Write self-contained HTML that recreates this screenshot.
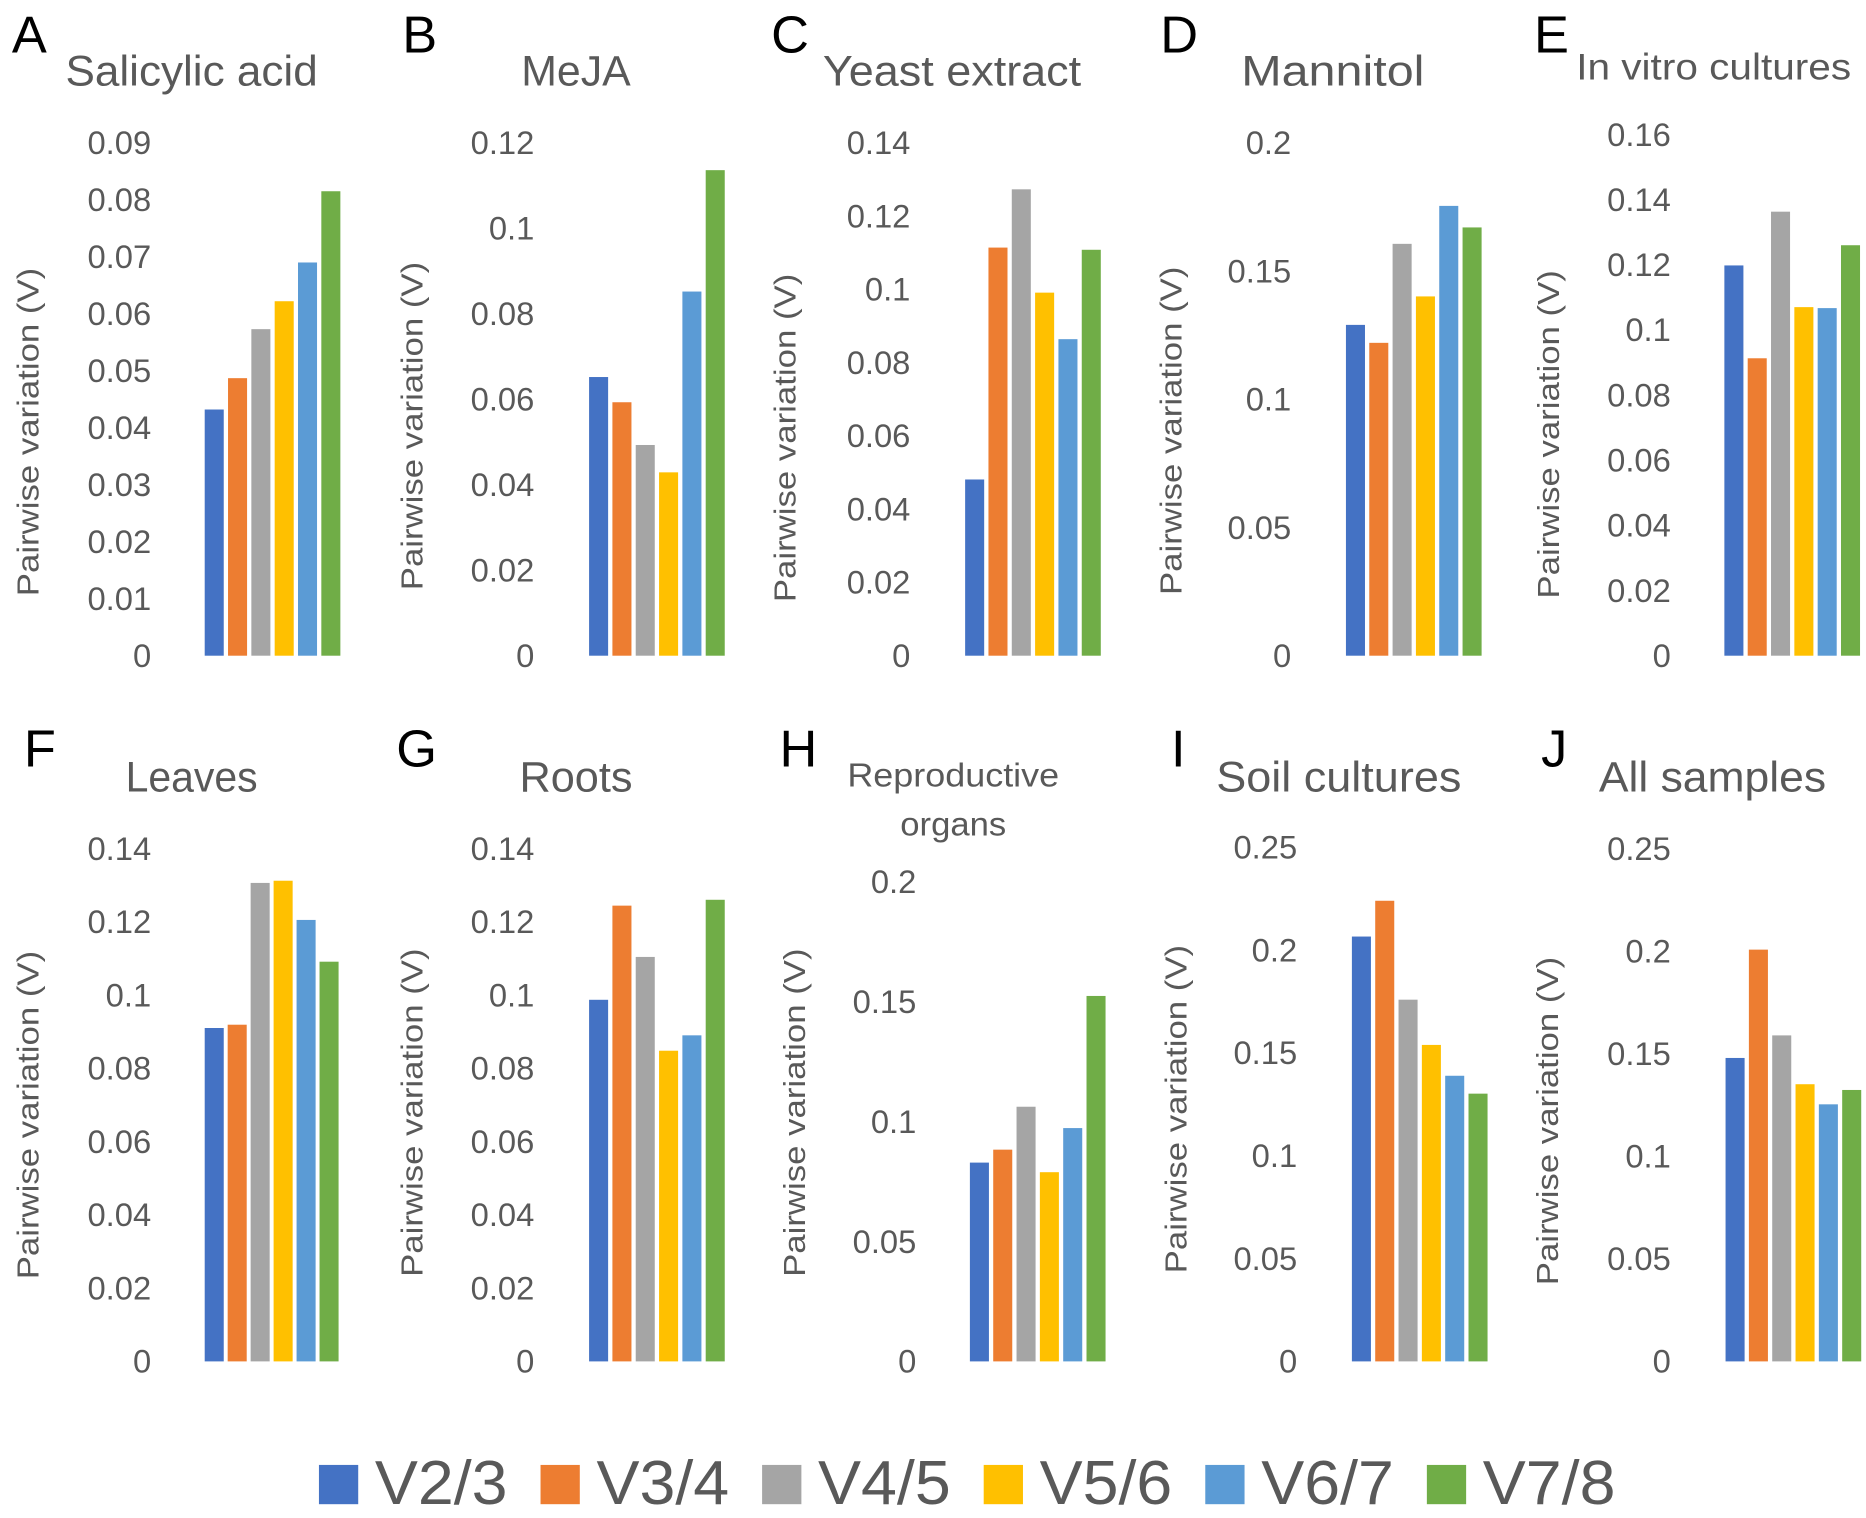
<!DOCTYPE html>
<html lang="en">
<head>
<meta charset="utf-8">
<title>Pairwise variation panels</title>
<style>
html,body{margin:0;padding:0;background:#fff;width:1866px;height:1518px;overflow:hidden}
svg{display:block}
text{font-family:"Liberation Sans",Arial,sans-serif;fill:#595959}
.letter{fill:#000}
</style>
</head>
<body>
<svg id="chart" xmlns="http://www.w3.org/2000/svg" width="1866" height="1518" viewBox="0 0 1568 1275.6"></svg>
<script>
const categories = ['V2/3','V3/4','V4/5','V5/6','V6/7','V7/8'];
const seriesColors = ['#4472C4','#ED7D31','#A5A5A5','#FFC000','#5B9BD5','#70AD47'];

const ticksA = ['0','0.01','0.02','0.03','0.04','0.05','0.06','0.07','0.08','0.09'];
const ticksB = ['0','0.02','0.04','0.06','0.08','0.1','0.12'];
const ticksC = ['0','0.02','0.04','0.06','0.08','0.1','0.12','0.14'];
const ticksD = ['0','0.05','0.1','0.15','0.2'];
const ticksE = ['0','0.02','0.04','0.06','0.08','0.1','0.12','0.14','0.16'];
const ticksF = ['0','0.02','0.04','0.06','0.08','0.1','0.12','0.14'];
const ticksG = ['0','0.02','0.04','0.06','0.08','0.1','0.12','0.14'];
const ticksH = ['0','0.05','0.1','0.15','0.2'];
const ticksI = ['0','0.05','0.1','0.15','0.2','0.25'];
const ticksJ = ['0','0.05','0.1','0.15','0.2','0.25'];

const valuesA = [0.0432,0.0487,0.0573,0.0622,0.069,0.0815];
const valuesB = [0.0652,0.0593,0.0493,0.0429,0.0852,0.1136];
const valuesC = [0.0481,0.1114,0.1273,0.0991,0.0864,0.1108];
const valuesD = [0.129,0.122,0.1606,0.1401,0.1754,0.167];
const valuesE = [0.1198,0.0913,0.1363,0.107,0.1067,0.126];
const valuesF = [0.091,0.0919,0.1306,0.1312,0.1205,0.1091];
const valuesG = [0.0987,0.1244,0.1104,0.0848,0.089,0.126];
const valuesH = [0.0829,0.0883,0.1062,0.0789,0.0973,0.1524];
const valuesI = [0.2066,0.224,0.1759,0.1539,0.1389,0.1302];
const valuesJ = [0.1479,0.2007,0.1589,0.1351,0.1253,0.1323];

const panels = [
 {id:'a',letter:'A',lx:10,ly:44,title:[['Salicylic acid',161,72,212]],tf:36,vals:valuesA,ticks:ticksA,top:120,base:551,x0:172,pitch:19.6,tr:127,yx:23.5,yc:363},
 {id:'b',letter:'B',lx:338,ly:44,title:[['MeJA',484,72,92]],tf:36,vals:valuesB,ticks:ticksB,top:120,base:551,x0:495,pitch:19.6,tr:449,yx:346,yc:358},
 {id:'c',letter:'C',lx:648,ly:44,title:[['Yeast extract',800,72,217]],tf:36,vals:valuesC,ticks:ticksC,top:120,base:551,x0:811,pitch:19.6,tr:765,yx:659.5,yc:368},
 {id:'d',letter:'D',lx:975,ly:44,title:[['Mannitol',1120,72,154]],tf:36,vals:valuesD,ticks:ticksD,top:120,base:551,x0:1131,pitch:19.6,tr:1085,yx:984,yc:362},
 {id:'e',letter:'E',lx:1289,ly:44,title:[['In vitro cultures',1440,67,231]],tf:31,vals:valuesE,ticks:ticksE,top:113,base:551,x0:1449,pitch:19.6,tr:1404,yx:1301,yc:365},
 {id:'f',letter:'F',lx:20,ly:644,title:[['Leaves',161,665,111]],tf:36,vals:valuesF,ticks:ticksF,top:713,base:1144,x0:172,pitch:19.3,tr:127,yx:23.5,yc:937},
 {id:'g',letter:'G',lx:333,ly:644,title:[['Roots',484,665,95]],tf:36,vals:valuesG,ticks:ticksG,top:713,base:1144,x0:495,pitch:19.6,tr:449,yx:346,yc:935},
 {id:'h',letter:'H',lx:655,ly:644,title:[['Reproductive',801,661,178],['organs',801,702,89]],tf:28,vals:valuesH,ticks:ticksH,top:741,base:1144,x0:815,pitch:19.6,tr:770,yx:667.5,yc:935},
 {id:'i',letter:'I',lx:984,ly:644,title:[['Soil cultures',1125,665,206]],tf:36,vals:valuesI,ticks:ticksI,top:712,base:1144,x0:1136,pitch:19.6,tr:1090,yx:988,yc:932},
 {id:'j',letter:'J',lx:1295,ly:644,title:[['All samples',1439,665,191]],tf:36,vals:valuesJ,ticks:ticksJ,top:713,base:1144,x0:1450,pitch:19.6,tr:1404,yx:1300,yc:942}
];

const NS = 'http://www.w3.org/2000/svg';
const svg = document.getElementById('chart');
const BAR_WIDTH = 16, TICK_FONT = 27.5, AXIS_FONT = 26;

function make(tag, parent, attrs, txt) {
  const el = document.createElementNS(NS, tag);
  for (const k in attrs) el.setAttribute(k, attrs[k]);
  if (txt !== undefined) el.textContent = txt;
  parent.appendChild(el);
  return el;
}
function yScale(p) {
  const max = parseFloat(p.ticks[p.ticks.length - 1]);
  return v => p.base - (v / max) * (p.base - p.top);
}
function xScale(p) {
  return i => p.x0 + i * p.pitch;
}

panels.forEach(p => {
  const y = yScale(p), x = xScale(p);
  const g = make('g', svg, {});
  
  

  const letter = make('text', g, {x:p.lx, y:p.ly, 'font-size':44, class:'letter'}, p.letter);
  
  

  p.title.forEach(t => {
    const title = make('text', g, {x:t[1], y:t[2], 'font-size':p.tf, 'text-anchor':'middle', textLength:t[3], lengthAdjust:'spacingAndGlyphs'}, t[0]);
    
    
  });

  const yTitle = make('text', g, {x:0, y:0, 'font-size':AXIS_FONT, 'text-anchor':'middle', textLength:276, lengthAdjust:'spacingAndGlyphs', transform:'translate(' + (p.yx + 9) + ',' + p.yc + ') rotate(-90)'}, 'Pairwise variation (V)');
  
  

  p.ticks.forEach(t => {
    const tick = make('text', g, {x:p.tr, y:y(parseFloat(t)) + 9.5, 'font-size':TICK_FONT, 'text-anchor':'end'}, t);
    
    
  });

  p.vals.forEach((v, i) => {
    const bar = make('rect', g, {x:x(i), y:y(v), width:BAR_WIDTH, height:p.base - y(v), fill:seriesColors[i]});
    
    
  });
});

const legend = make('g', svg, {});


categories.forEach((c, i) => {
  const lx = 268 + i * 186.2;
  const entry = make('g', legend, {});
  
  
  const swatch = make('rect', entry, {x:lx, y:1231, width:33, height:33, fill:seriesColors[i]});
  
  
  const label = make('text', entry, {x:lx + 47, y:1264, 'font-size':52, textLength:111.5, lengthAdjust:'spacingAndGlyphs'}, c);
  
  
});
</script>
</body>
</html>
